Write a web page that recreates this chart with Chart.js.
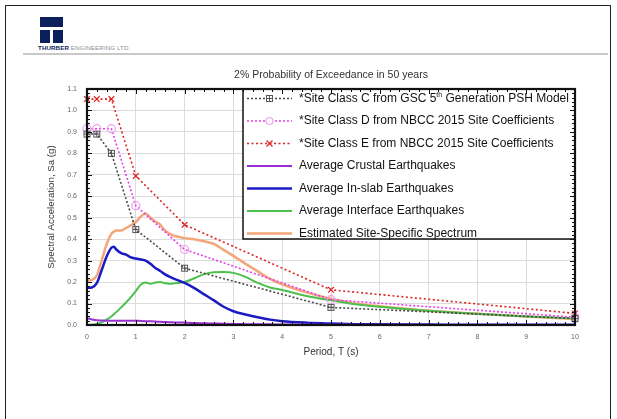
<!DOCTYPE html>
<html>
<head>
<meta charset="utf-8">
<script src="https://cdn.jsdelivr.net/npm/chart.js@4.4.0/dist/chart.umd.min.js"></script>
<style>
  html, body { margin: 0; padding: 0; background: #fff; }
  body { width: 617px; height: 419px; position: relative; overflow: hidden; font-family: Arial, "Liberation Sans", sans-serif; }
  #page { position: absolute; left: 5px; top: 5px; width: 604px; height: 440px; border: 1.5px solid #222; border-bottom: none; }
  #rule { position: absolute; left: 23px; top: 53px; width: 585px; height: 2px; background: #c9c9c9; }
  .logo { position: absolute; background: #0b1f5c; }
  #logoText { position: absolute; left: 38px; top: 44px; font-size: 6.2px; letter-spacing: 0.1px; color: #8a8f9a; white-space: nowrap; }
  #logoText b { color: #0b1f5c; }
  #chart { position: absolute; left: 0; top: 0; }
</style>
</head>
<body>
<div id="page"></div>
<div class="logo" style="left:40px;top:17px;width:23px;height:10px;"></div>
<div class="logo" style="left:40px;top:30px;width:10px;height:13px;"></div>
<div class="logo" style="left:53px;top:30px;width:10px;height:13px;"></div>
<div id="logoText"><b>THURBER</b> ENGINEERING LTD.</div>
<div id="rule"></div>
<canvas id="chart" width="617" height="419"></canvas>
<script>
// Code spectra (marker points)
const codePeriods = [0, 0.2, 0.5, 1, 2, 5, 10];
const classC = [0.89, 0.89, 0.80, 0.445, 0.265, 0.082, 0.03];
const classD = [0.915, 0.915, 0.915, 0.556, 0.352, 0.118, 0.036];
const classE = [1.053, 1.053, 1.053, 0.695, 0.467, 0.164, 0.054];

// Site-specific curves
const periods = [0, 0.1, 0.2, 0.3, 0.4, 0.5, 0.55, 0.6, 0.7, 0.8, 0.9, 1.0, 1.1, 1.2, 1.3, 1.4, 1.5, 1.6, 1.7, 1.8, 1.9, 2.0,
    2.2, 2.4, 2.6, 2.8, 3.0, 3.25, 3.5, 3.75, 4.0, 4.5, 5.0, 5.5, 6.0, 7.0, 8.0, 9.0, 10.0];
const crustal = [0.032, 0.026, 0.022, 0.021, 0.02, 0.02, 0.02, 0.02, 0.02, 0.02, 0.02, 0.02, 0.019, 0.018, 0.017, 0.016, 0.015, 0.014, 0.013, 0.012, 0.012, 0.011,
    0.009, 0.008, 0.007, 0.006, 0.005, 0.004, 0.003, 0.003, 0.002, 0.002, 0.001, 0.001, 0.001, 0.0005, 0.0005, 0.0005, 0.0005];
const inSlab = [0.173, 0.175, 0.195, 0.255, 0.318, 0.36, 0.365, 0.352, 0.335, 0.328, 0.315, 0.31, 0.305, 0.3, 0.285, 0.266, 0.252, 0.236, 0.224, 0.214, 0.205, 0.196,
    0.172, 0.143, 0.115, 0.085, 0.064, 0.049, 0.036, 0.025, 0.018, 0.011, 0.007, 0.004, 0.003, 0.002, 0.001, 0.001, 0.001];
const interfaceEq = [0.0, 0.001, 0.005, 0.012, 0.025, 0.04, 0.05, 0.06, 0.082, 0.105, 0.13, 0.158, 0.188, 0.198, 0.192, 0.198, 0.2, 0.195, 0.192, 0.195, 0.197, 0.2,
    0.218, 0.237, 0.246, 0.247, 0.243, 0.224, 0.196, 0.175, 0.163, 0.135, 0.115, 0.097, 0.085, 0.066, 0.052, 0.04, 0.03];
const estimated = [0.207, 0.21, 0.23, 0.3, 0.375, 0.425, 0.435, 0.44, 0.44, 0.452, 0.465, 0.48, 0.505, 0.52, 0.5, 0.482, 0.468, 0.44, 0.425, 0.415, 0.41, 0.405,
    0.4, 0.39, 0.378, 0.35, 0.322, 0.285, 0.25, 0.215, 0.19, 0.152, 0.122, 0.1, 0.087, 0.066, 0.052, 0.04, 0.028];

const labels = [
    '*Site Class C from GSC 5th Generation PSH Model',
    '*Site Class D from NBCC 2015 Site Coefficients',
    '*Site Class E from NBCC 2015 Site Coefficients',
    'Average Crustal Earthquakes',
    'Average In-slab Earthquakes',
    'Average Interface Earthquakes',
    'Estimated Site-Specific Spectrum'
];

Chart.defaults.font.family = 'Arial, "Liberation Sans", sans-serif';

function pairs(xs, ys) {
    return xs.map((x, i) => ({ x: x, y: ys[i] }));
}

// square with a cross inside, for Site Class C
const squareMark = document.createElement('canvas');
squareMark.width = 9; squareMark.height = 9;
(function () {
    const c = squareMark.getContext('2d');
    c.strokeStyle = '#555';
    c.lineWidth = 1;
    c.strokeRect(1.5, 1.5, 6, 6);
    c.beginPath();
    c.moveTo(4.5, 1.5); c.lineTo(4.5, 7.5);
    c.moveTo(1.5, 4.5); c.lineTo(7.5, 4.5);
    c.stroke();
})();

const dotted = (label, data, color, style, marker, dash) => ({
    label: label, data: data, borderColor: color, borderWidth: 1.6, borderDash: dash,
    pointStyle: style, pointRadius: 4, pointBorderColor: marker, pointBackgroundColor: 'rgba(255,255,255,0)',
    pointBorderWidth: 1.2, tension: 0, fill: false, clip: false
});
const solid = (label, data, color, width) => ({
    label: label, data: data, borderColor: color, borderWidth: width, pointRadius: 0,
    cubicInterpolationMode: 'monotone', fill: false
});

const LEGEND_FONT = '12px Arial, "Liberation Sans", sans-serif';

// legend drawn inside the plot, top right
const boxLegend = {
    id: 'boxLegend',
    afterDraw(chart) {
        const ctx = chart.ctx, area = chart.chartArea;
        const w = 332, h = 150;
        const left = area.right - w, top = area.top;
        ctx.save();
        ctx.fillStyle = '#fff';
        ctx.fillRect(left, top, w, h);
        ctx.lineWidth = 1.5;
        ctx.strokeStyle = '#111';
        ctx.strokeRect(left, top, w, h);
        chart.data.datasets.forEach((ds, i) => {
            const y = top + 9.5 + i * 22.5;
            const x0 = left + 4, x1 = left + 49, xm = (x0 + x1) / 2;
            ctx.setLineDash(ds.borderDash || []);
            ctx.strokeStyle = ds.borderColor;
            ctx.lineWidth = ds.borderWidth;
            ctx.beginPath(); ctx.moveTo(x0, y); ctx.lineTo(x1, y); ctx.stroke();
            ctx.setLineDash([]);
            if (ds.pointRadius) {
                if (ds.pointStyle === 'circle') {
                    ctx.strokeStyle = ds.pointBorderColor; ctx.lineWidth = 1.2;
                    ctx.fillStyle = '#fff';
                    ctx.beginPath(); ctx.arc(xm, y, 3.5, 0, Math.PI * 2); ctx.fill(); ctx.stroke();
                } else if (ds.pointStyle === 'crossRot') {
                    ctx.strokeStyle = ds.pointBorderColor; ctx.lineWidth = 1.2;
                    ctx.beginPath();
                    ctx.moveTo(xm - 3, y - 3); ctx.lineTo(xm + 3, y + 3);
                    ctx.moveTo(xm + 3, y - 3); ctx.lineTo(xm - 3, y + 3);
                    ctx.stroke();
                } else {
                    ctx.fillStyle = '#fff'; ctx.fillRect(xm - 4, y - 4, 8, 8);
                    ctx.drawImage(ds.pointStyle, xm - 4.5, y - 4.5);
                }
            }
            ctx.fillStyle = '#111';
            ctx.textBaseline = 'middle';
            ctx.textAlign = 'left';
            ctx.font = LEGEND_FONT;
            let tx = left + 56;
            const parts = ds.label.split('5th');
            if (parts.length === 2) {
                const a = parts[0] + '5';
                ctx.fillText(a, tx, y); tx += ctx.measureText(a).width;
                ctx.font = '7px Arial, "Liberation Sans", sans-serif';
                ctx.fillText('th', tx, y - 3); tx += ctx.measureText('th').width;
                ctx.font = LEGEND_FONT;
                ctx.fillText(parts[1], tx, y);
            } else {
                ctx.fillText(ds.label, tx, y);
            }
        });
        ctx.restore();
    }
};

// heavy frame with inward minor ticks
const plotFrame = {
    id: 'plotFrame',
    afterDraw(chart) {
        const ctx = chart.ctx, a = chart.chartArea;
        const xs = chart.scales.x, ys = chart.scales.y;
        ctx.save();
        ctx.strokeStyle = '#111';
        ctx.lineWidth = 1;
        ctx.beginPath();
        for (let k = 0; k <= 50; k++) {
            const px = Math.round(xs.getPixelForValue(k * 0.2)) + 0.5;
            const len = k % 5 === 0 ? 5 : 3;
            ctx.moveTo(px, a.bottom); ctx.lineTo(px, a.bottom - len);
            ctx.moveTo(px, a.top); ctx.lineTo(px, a.top + len);
        }
        for (let k = 0; k <= 55; k++) {
            const py = Math.round(ys.getPixelForValue(k * 0.02)) + 0.5;
            const len = k % 5 === 0 ? 5 : 3;
            ctx.moveTo(a.left, py); ctx.lineTo(a.left + len, py);
            ctx.moveTo(a.right, py); ctx.lineTo(a.right - len, py);
        }
        ctx.stroke();
        ctx.lineWidth = 2.2;
        ctx.strokeRect(a.left, a.top, a.right - a.left, a.bottom - a.top);
        ctx.restore();
    }
};

new Chart(document.getElementById('chart'), {
    type: 'line',
    data: {
        datasets: [
            dotted(labels[0], pairs(codePeriods, classC), '#4a4a4a', squareMark, '#555', [2, 2]),
            dotted(labels[1], pairs(codePeriods, classD), '#e640e6', 'circle', '#f29ef2', [2, 2]),
            dotted(labels[2], pairs(codePeriods, classE), '#dd2222', 'crossRot', '#dd2222', [2, 2.5]),
            solid(labels[3], pairs(periods, crustal), '#9a2fd0', 2),
            solid(labels[4], pairs(periods, inSlab), '#1b1bc6', 2.5),
            solid(labels[5], pairs(periods, interfaceEq), '#4cbf4c', 2),
            solid(labels[6], pairs(periods, estimated), '#f4a67a', 2.5)
        ]
    },
    options: {
        responsive: false,
        animation: false,
        layout: { padding: { left: 0, right: 42, top: 0, bottom: 0 } },
        plugins: {
            legend: { display: false },
            tooltip: { enabled: false },
            title: {
                display: true,
                fullSize: false,
                text: '2% Probability of Exceedance in 50 years',
                color: '#333',
                font: { size: 10.5, weight: 'normal' },
                padding: { top: 69, bottom: 7.4 }
            }
        },
        scales: {
            x: {
                type: 'linear', min: 0, max: 10,
                ticks: { stepSize: 1, color: '#666', font: { size: 7 }, padding: 8, maxRotation: 0 },
                grid: { color: '#dcdcdc', drawTicks: false },
                border: { display: false },
                title: { display: true, text: 'Period, T (s)', color: '#333', font: { size: 10 }, padding: { top: 0, bottom: 61 } },
                afterFit(scale) { scale.height = 94; }
            },
            y: {
                min: 0, max: 1.1,
                ticks: { stepSize: 0.1, color: '#666', font: { size: 7 }, padding: 10, callback: v => v.toFixed(1) },
                grid: { color: '#dcdcdc', drawTicks: false },
                border: { display: false },
                title: { display: true, text: 'Spectral Acceleration, Sa (g)', color: '#333', font: { size: 9.7 }, padding: { top: 46, bottom: 0 } },
                afterFit(scale) { scale.width = 87; }
            }
        }
    },
    plugins: [boxLegend, plotFrame]
});
</script>
</body>
</html>
